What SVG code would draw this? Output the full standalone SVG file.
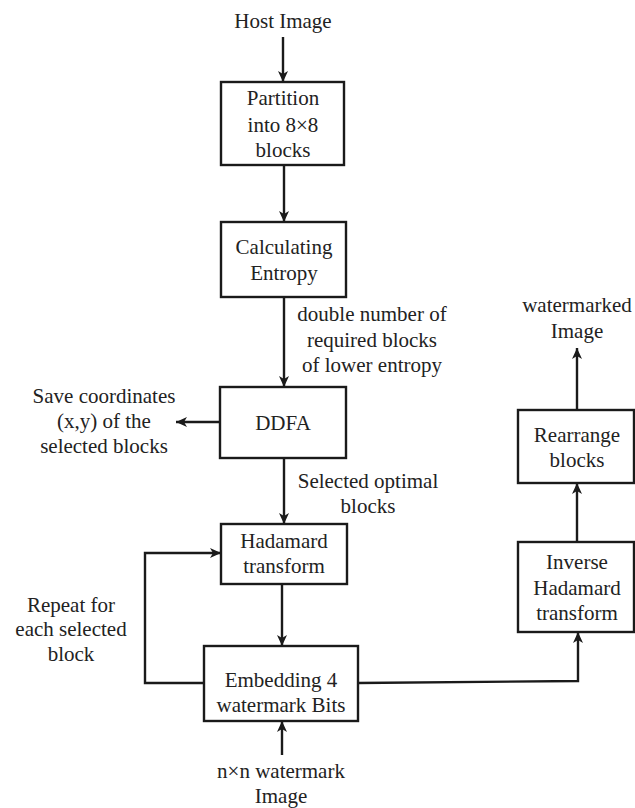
<svg xmlns="http://www.w3.org/2000/svg" width="635" height="808" viewBox="0 0 635 808">
<style>
.box{fill:#fff;stroke:#1a1a1a;stroke-width:2.4}
.t{font-family:"Liberation Serif","Times New Roman",serif;font-size:21px;fill:#222;text-anchor:middle}
.c{fill:none;stroke:#1a1a1a;stroke-width:2.4}
</style>
<defs>
<marker id="ah" viewBox="0 0 12 12" refX="11" refY="6" markerWidth="12" markerHeight="12" markerUnits="userSpaceOnUse" orient="auto">
<path d="M0,1 L11,6 L0,11 L3,6 Z" fill="#1a1a1a"/>
</marker>
</defs>
<rect width="635" height="808" fill="#fff"/>
<g id="connectors">
<path class="c" d="M283,37 L283,82" marker-end="url(#ah)"/>
<path class="c" d="M284,165 L284,222" marker-end="url(#ah)"/>
<path class="c" d="M284,297 L284,387" marker-end="url(#ah)"/>
<path class="c" d="M220,422 L176,422" marker-end="url(#ah)"/>
<path class="c" d="M284,458 L284,524" marker-end="url(#ah)"/>
<path class="c" d="M282,584 L282,646" marker-end="url(#ah)"/>
<path class="c" d="M204,683 L145,683 L145,553 L221,553" marker-end="url(#ah)"/>
<path class="c" d="M358,683 L578,681 L578,632" marker-end="url(#ah)"/>
<path class="c" d="M577,542 L577,483" marker-end="url(#ah)"/>
<path class="c" d="M577,410 L577,348" marker-end="url(#ah)"/>
<path class="c" d="M282,755 L282,721" marker-end="url(#ah)"/>
</g>
<g id="host-image"><text class="t" x="283" y="28">Host Image</text></g>
<g id="partition">
<rect class="box" x="221" y="82" width="123" height="83"/>
<text class="t" x="283" y="105">Partition</text>
<text class="t" x="283" y="132">into 8×8</text>
<text class="t" x="283" y="157">blocks</text>
</g>
<g id="entropy">
<rect class="box" x="221" y="222" width="125" height="75"/>
<text class="t" x="284" y="254">Calculating</text>
<text class="t" x="284" y="280">Entropy</text>
</g>
<g id="label-double">
<text class="t" x="372" y="321">double number of</text>
<text class="t" x="372" y="347">required blocks</text>
<text class="t" x="372" y="372">of lower entropy</text>
</g>
<g id="ddfa">
<rect class="box" x="220" y="387" width="126" height="71"/>
<text class="t" x="283" y="430">DDFA</text>
</g>
<g id="save-coords">
<text class="t" x="104" y="403">Save coordinates</text>
<text class="t" x="104" y="428">(x,y) of the</text>
<text class="t" x="104" y="453">selected blocks</text>
</g>
<g id="label-selected">
<text class="t" x="368" y="488">Selected optimal</text>
<text class="t" x="368" y="513">blocks</text>
</g>
<g id="hadamard">
<rect class="box" x="221" y="524" width="126" height="60"/>
<text class="t" x="284" y="548">Hadamard</text>
<text class="t" x="284" y="573">transform</text>
</g>
<g id="label-repeat">
<text class="t" x="71" y="612">Repeat for</text>
<text class="t" x="71" y="636">each selected</text>
<text class="t" x="71" y="661">block</text>
</g>
<g id="embedding">
<rect class="box" x="204" y="646" width="154" height="75"/>
<text class="t" x="281" y="687">Embedding 4</text>
<text class="t" x="281" y="712">watermark Bits</text>
</g>
<g id="nxn-watermark">
<text class="t" x="281" y="778">n×n watermark</text>
<text class="t" x="281" y="803">Image</text>
</g>
<g id="inverse-hadamard">
<rect class="box" x="518" y="542" width="116" height="90"/>
<text class="t" x="577" y="569">Inverse</text>
<text class="t" x="577" y="595">Hadamard</text>
<text class="t" x="577" y="620">transform</text>
</g>
<g id="rearrange">
<rect class="box" x="518" y="410" width="116" height="73"/>
<text class="t" x="577" y="442">Rearrange</text>
<text class="t" x="577" y="467">blocks</text>
</g>
<g id="watermarked-image">
<text class="t" x="577" y="312">watermarked</text>
<text class="t" x="577" y="338">Image</text>
</g>
</svg>
